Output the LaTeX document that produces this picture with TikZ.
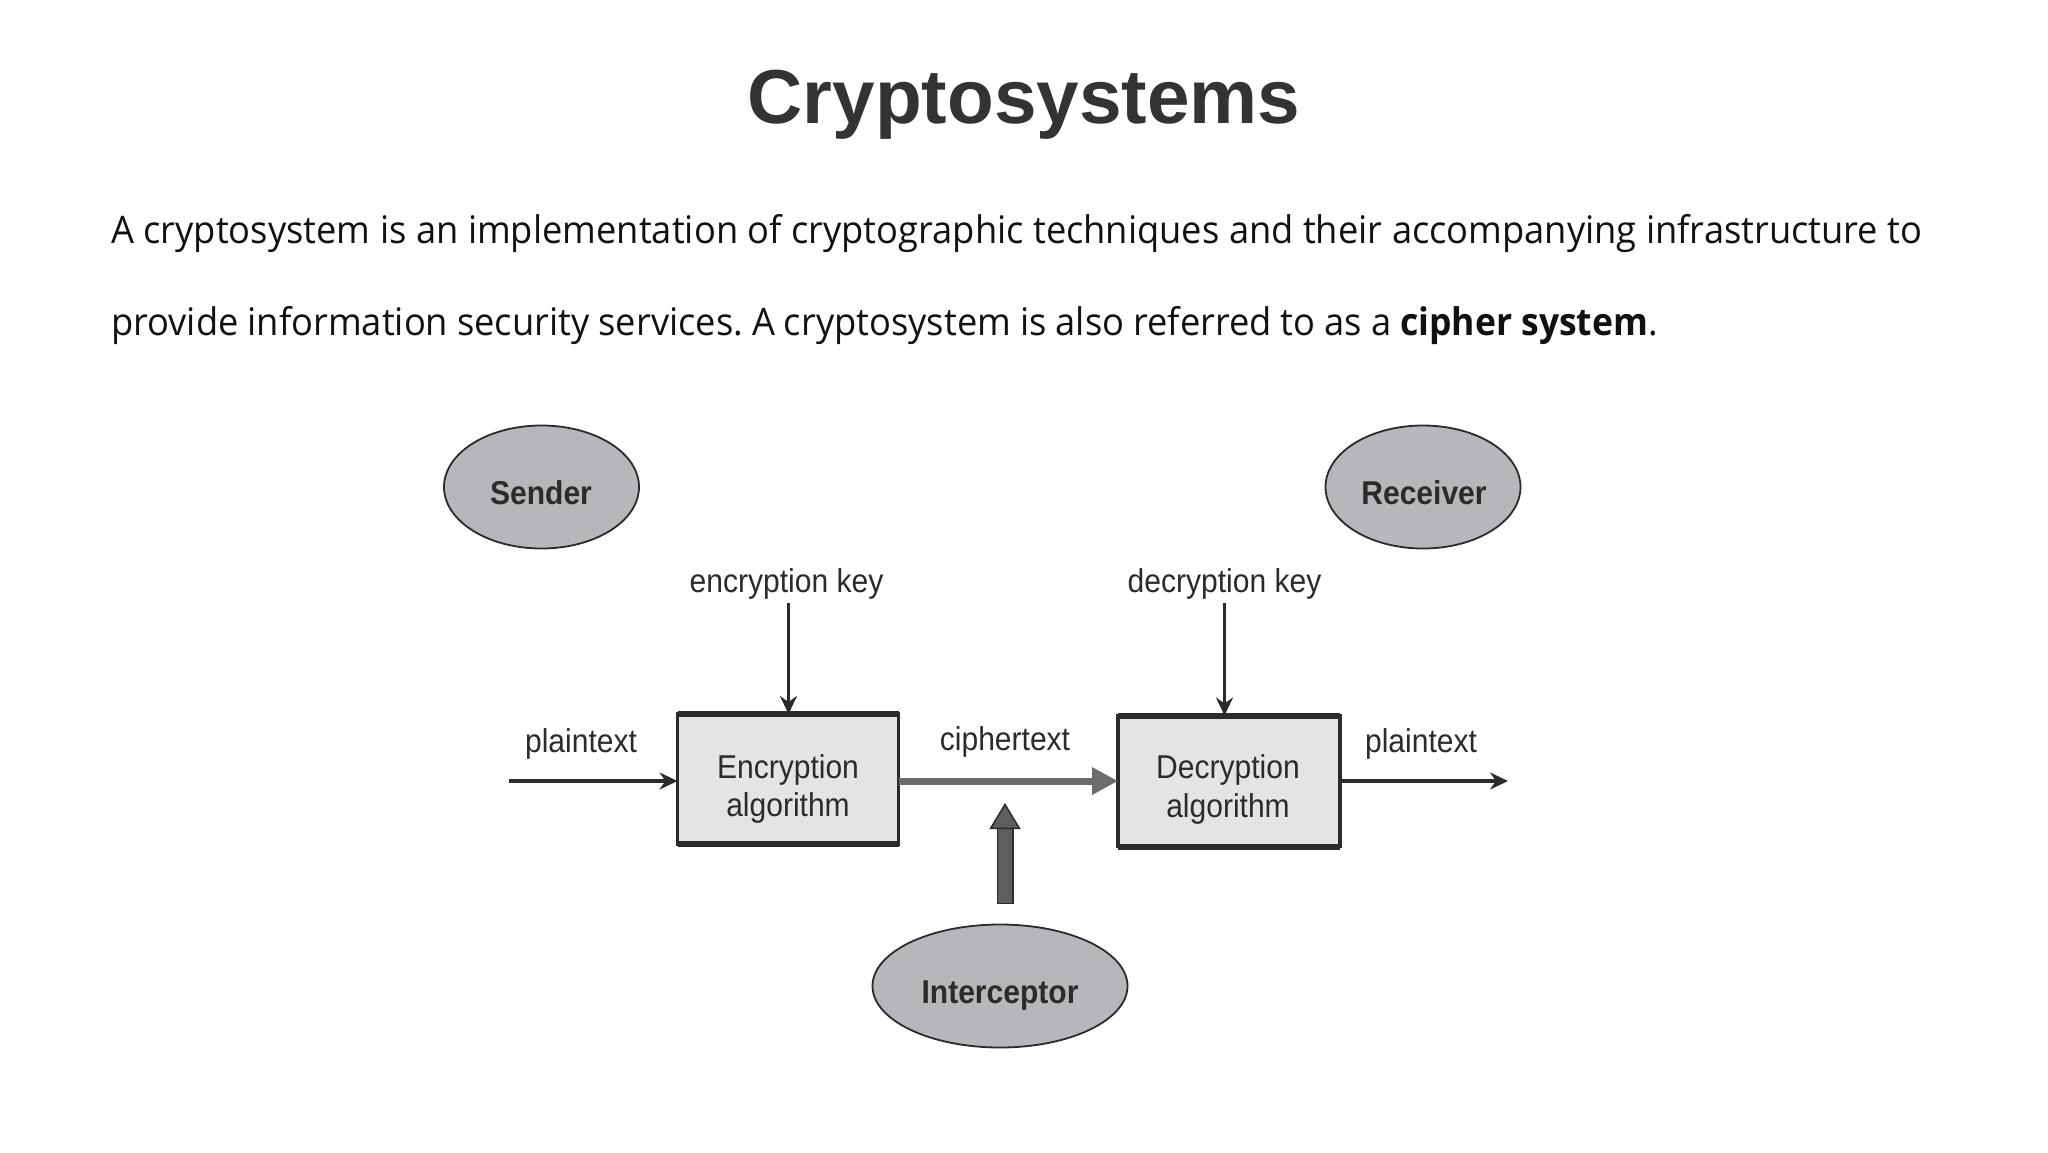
\documentclass[tikz,border=0pt]{standalone}
\usepackage{fontspec}
\setmainfont{Liberation Sans}
\newfontfamily\bodyfont[FakeStretch=0.955,BoldFeatures={FakeStretch=0.935}]{Open Sans}
\newfontfamily\diagfont[FakeStretch=0.91]{Liberation Sans}
\usetikzlibrary{arrows.meta,shapes.geometric}
\definecolor{inkdark}{HTML}{2B2B2B}
\definecolor{titleink}{HTML}{333333}
\definecolor{bodyink}{HTML}{111111}
\definecolor{ovalfill}{HTML}{B5B7BA}
\definecolor{boxfill}{HTML}{E3E4E6}
\definecolor{cipherink}{HTML}{6C6C6C}
\definecolor{thickfill}{HTML}{5E5E60}
\tikzset{
  x=1pt,y=-1pt,
  titletext/.style={anchor=base,inner sep=0pt,text=titleink,font=\fontsize{76.5}{80}\selectfont\bfseries},
  bodytext/.style={anchor=base west,inner sep=0pt,text=bodyink,font=\fontsize{38}{40}\selectfont\bodyfont\frenchspacing},
  labeltext/.style={anchor=base,inner sep=0pt,text=inkdark,font=\fontsize{33}{36}\selectfont\diagfont},
  ovaltext/.style={anchor=base,inner sep=0pt,text=inkdark,font=\fontsize{33}{36}\selectfont\diagfont\bfseries},
  oval/.style={ellipse,draw=inkdark,line width=1.8pt,fill=ovalfill,inner sep=0pt},
  algobox/.style={rectangle,draw=inkdark,line width=3.5pt,fill=boxfill,inner sep=0pt,outer sep=0pt},
  boxedge/.style={draw=inkdark,line width=6pt},
  flow/.style={draw=inkdark,line width=3.2pt,-{Stealth[length=18pt,width=17pt,inset=6pt]}},
  cipherflow/.style={draw=cipherink,line width=7pt,-{Triangle[length=26pt,width=26pt]}},
  interflow/.style={draw=inkdark,line width=1.5pt,double=thickfill,double distance=14pt,
    {Bar[width=17pt,line width=1.5pt,color=inkdark]}-{Triangle[length=26pt,width=31pt,fill=thickfill,color=inkdark,line width=1.5pt]}},
}
\begin{document}
\begin{tikzpicture}
\useasboundingbox (0,0) rectangle (2048,1152);
\node[titletext] (title) at (1024,123) {Cryptosystems};
\node[bodytext] (line1) at (111,243) {A cryptosystem is an implementation of cryptographic techniques and their accompanying infrastructure to};
\node[bodytext] (line2) at (111,335) {\spaceskip=9pt plus 0pt provide information security services. A cryptosystem is also referred to as a \textbf{cipher system}.};

\node[oval,minimum width=195pt,minimum height=123pt] (sender) at (541.5,487) {};
\node[ovaltext] (sendertext) at (541,504) {Sender};
\node[oval,minimum width=195pt,minimum height=123pt] (receiver) at (1423,487) {};
\node[ovaltext] (receivertext) at (1424,504) {Receiver};
\node[oval,minimum width=255pt,minimum height=123pt] (interceptor) at (1000,986) {};
\node[ovaltext] (interceptortext) at (1000,1003) {Interceptor};

\node[algobox,minimum width=221pt,minimum height=130pt] (enc) at (788,779) {};
\node[algobox,minimum width=222pt,minimum height=131pt] (dec) at (1229,781) {};
\draw[boxedge] (enc.north west) -- (enc.north east);
\draw[boxedge] (enc.south west) -- (enc.south east);
\draw[boxedge] (dec.north west) -- (dec.north east);
\draw[boxedge] (dec.south west) -- (dec.south east);

\node[labeltext] (enctext1) at (788,778) {Encryption};
\node[labeltext] (enctext2) at (788,816) {algorithm};
\node[labeltext] (dectext1) at (1228,778.5) {Decryption};
\node[labeltext] (dectext2) at (1228,817) {algorithm};
\node[labeltext] (enckey) at (786.5,592) {encryption key};
\node[labeltext] (deckey) at (1224.5,592) {decryption key};
\node[labeltext] (plainin) at (581,752) {plaintext};
\node[labeltext] (cipher) at (1005,750) {ciphertext};
\node[labeltext] (plainout) at (1421,752) {plaintext};

\coordinate (plainstart) at (509,781);
\coordinate (plainend) at (1508,781);
\coordinate (enckeystart) at (788.5,603);
\coordinate (deckeystart) at (1224.5,603);
\coordinate (intertail) at (1005,904);
\coordinate (intertip) at (1005,803);

\draw[flow] (enckeystart) -- (enckeystart |- enc.north);
\draw[flow] (deckeystart) -- (deckeystart |- dec.north);
\draw[flow] (plainstart) -- (plainstart -| enc.west);
\draw[flow] (plainend -| dec.east) -- (plainend);
\draw[cipherflow] (enc.east |- plainstart) -- (dec.west |- plainstart);
\draw[interflow] (intertail) -- (intertip);
\end{tikzpicture}
\end{document}
